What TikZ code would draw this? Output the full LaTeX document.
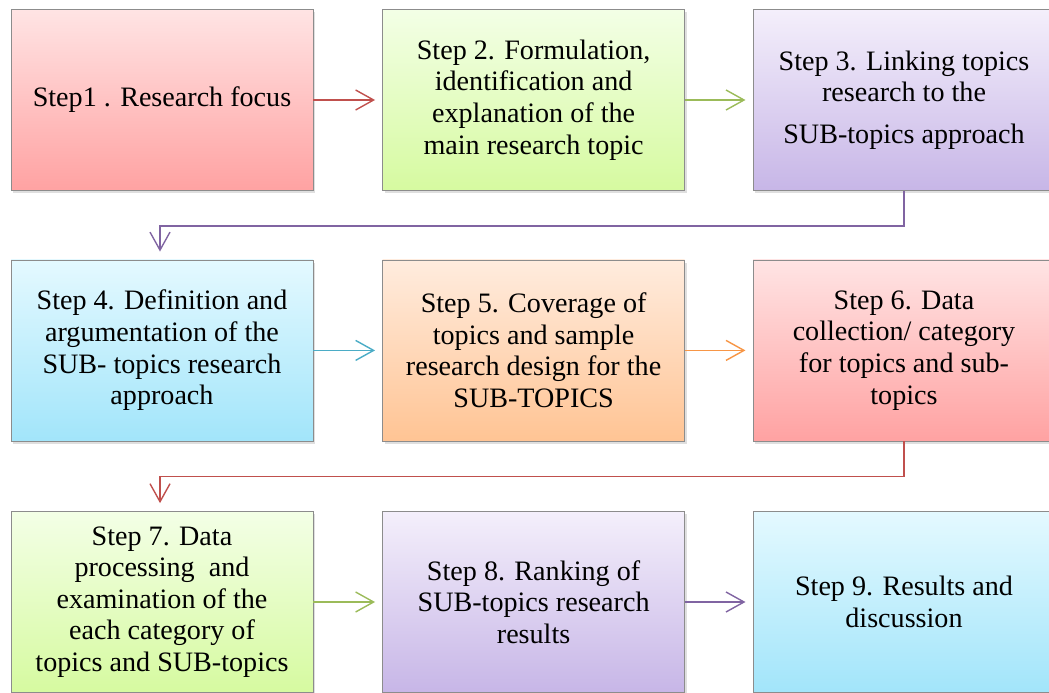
\documentclass[tikz,border=0pt]{standalone}
\usepackage{fontspec}
\setmainfont{Liberation Serif}
\usetikzlibrary{arrows.meta,shadows}

\definecolor{lnred}{HTML}{C0504D}
\definecolor{lngreen}{HTML}{9BBB59}
\definecolor{lnpurple}{HTML}{8064A2}
\definecolor{lnaqua}{HTML}{4BACC6}
\definecolor{lnorange}{HTML}{F79646}

\tikzset{
  stepbox/.style={draw=black!45, line width=0.5pt, rectangle, align=center,
    minimum width=7.55cm, minimum height=4.525cm, inner sep=2pt,
    font=\fontsize{20}{22.5}\selectfont,
    drop shadow={shadow xshift=1.5pt, shadow yshift=-2pt, opacity=0.25}},
  redbox/.style={stepbox, top color={rgb,255:red,255;green,228;blue,228}, bottom color={rgb,255:red,255;green,162;blue,162}},
  greenbox/.style={stepbox, top color={rgb,255:red,243;green,255;blue,230}, bottom color={rgb,255:red,214;green,250;blue,160}},
  purplebox/.style={stepbox, top color={rgb,255:red,244;green,239;blue,251}, bottom color={rgb,255:red,199;green,182;blue,231}},
  aquabox/.style={stepbox, top color={rgb,255:red,228;green,249;blue,255}, bottom color={rgb,255:red,162;green,229;blue,250}},
  orangebox/.style={stepbox, top color={rgb,255:red,255;green,236;blue,222}, bottom color={rgb,255:red,255;green,196;blue,148}},
  flow/.style={line width=1pt, -{Straight Barb[length=4.5mm, width=5mm, line width=1pt]}}
}

\begin{document}
\begin{tikzpicture}
    \useasboundingbox (0,0) rectangle (26.225,-17.325);

    % Row 1
    \node (s1) at (4.05,-2.5) [redbox] {Step1 . Research focus};
    \node (s2) at (13.34,-2.5) [greenbox] {Step 2. Formulation,\\ identification and\\ explanation of the\\ main research topic};
    \node (s3) at (22.6,-2.5) [purplebox] {Step 3. Linking topics\\ research to the\\[7pt] SUB-topics approach};

    % Row 2
    \node (s4) at (4.05,-8.76) [aquabox] {Step 4. Definition and\\ argumentation of the\\ SUB- topics research\\ approach};
    \node (s5) at (13.34,-8.76) [orangebox] {Step 5. Coverage of\\ topics and sample\\ research design for the\\ SUB-TOPICS};
    \node (s6) at (22.6,-8.76) [redbox] {Step 6. Data\\ collection/ category\\ for topics and sub-\\ topics};

    % Row 3
    \node (s7) at (4.05,-15.05) [greenbox] {Step 7. Data\\ processing~ and\\ examination of the\\ each category of\\ topics and SUB-topics};
    \node (s8) at (13.34,-15.05) [purplebox] {Step 8. Ranking of\\ SUB-topics research\\ results};
    \node (s9) at (22.6,-15.05) [aquabox] {Step 9. Results and\\ discussion};

    % Arrows along the rows
    \draw[flow, lnred] (s1.east) -- ([xshift=-0.18cm]s2.west);
    \draw[flow, lngreen] (s2.east) -- ([xshift=-0.18cm]s3.west);
    \draw[flow, lnaqua] (s4.east) -- ([xshift=-0.18cm]s5.west);
    \draw[flow, lnorange] (s5.east) -- ([xshift=-0.18cm]s6.west);
    \draw[flow, lngreen] (s7.east) -- ([xshift=-0.18cm]s8.west);
    \draw[flow, lnpurple] (s8.east) -- ([xshift=-0.18cm]s9.west);

    % Arrows between the rows
    \draw[flow, lnpurple] (s3.south) -- ++(0,-0.875) -| ([xshift=-0.05cm, yshift=0.2cm]s4.north);
    \draw[flow, lnred] (s6.south) -- ++(0,-0.875) -| ([xshift=-0.05cm, yshift=0.2cm]s7.north);
\end{tikzpicture}
\end{document}
